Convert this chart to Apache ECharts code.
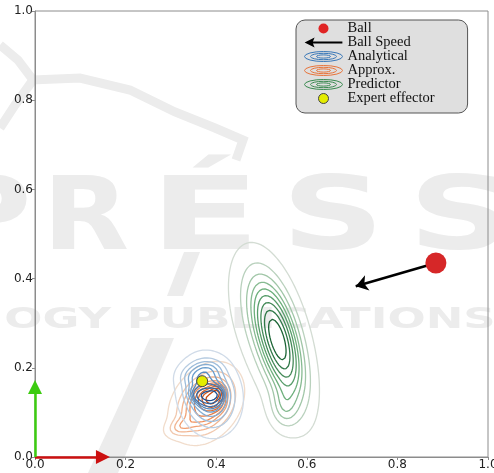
<!DOCTYPE html>
<html>
<head>
<meta charset="utf-8">
<script src="https://cdn.jsdelivr.net/npm/echarts@6/dist/echarts.min.js"></script>
<style>
  html, body { margin: 0; padding: 0; background: #ffffff; }
  #chart { width: 494px; height: 473px; }
</style>
</head>
<body>
<div id="chart"></div>
<script>
// ---- data ----
const axisTicks = [0.0, 0.2, 0.4, 0.6, 0.8, 1.0];

const ballPos = [0.885, 0.435];
const ballSpeedEnd = [0.708, 0.383];
const effectorPos = [0.369, 0.170];

// robot frame axes (origin -> shaft end)
const frameOrigin = [0.0, 0.0];
const frameXEnd = [0.150, 0.0];
const frameYEnd = [0.0, 0.157];

// density kernels: [cx, cy, sigmaMajor, sigmaMinor, angleDeg, weight]
const analyticalKernels = [
  [0.385, 0.140, 0.043, 0.032, 100, 1.00],
  [0.372, 0.136, 0.011, 0.018, 75, 0.12],
  [0.395, 0.140, 0.010, 0.013, 90, 0.08],
  [0.348, 0.180, 0.020, 0.016, 0, 0.06],
  [0.380, 0.198, 0.022, 0.014, 0, 0.06]
];
const approxKernels = [
  [0.378, 0.120, 0.044, 0.032, 55, 1.00],
  [0.388, 0.128, 0.012, 0.016, 60, 0.15],
  [0.402, 0.145, 0.010, 0.010, 0, 0.08],
  [0.322, 0.068, 0.020, 0.012, 20, 0.05]
];
const predictorKernels = [
  [0.538, 0.266, 0.085, 0.030, 106, 1.00],
  [0.518, 0.315, 0.075, 0.032, 106, 0.50],
  [0.550, 0.200, 0.072, 0.028, 104, 0.45],
  [0.507, 0.290, 0.100, 0.042, 108, 0.35],
  [0.549, 0.108, 0.030, 0.020, 97, 0.10]
];

// fraction of the mass enclosed by each contour (outer -> inner)
const massLevels = [0.95, 0.844, 0.739, 0.633, 0.528, 0.422, 0.317, 0.211, 0.106];

// colour ramps (low density -> high density)
const analyticalRamp = ['#d0dbe8', '#6a9dcc', '#1d4f8f'];
const approxRamp = ['#f1dccb', '#f08c55', '#c8490c'];
const predictorRamp = ['#d3dcd3', '#6caf7b', '#1b6535'];

// ---- helpers ----
function hexToRgb(h) {
  const n = parseInt(h.slice(1), 16);
  return [(n >> 16) & 255, (n >> 8) & 255, n & 255];
}
function rampColor(ramp, t) {
  const seg = t <= 0.5 ? 0 : 1;
  const lt = t <= 0.5 ? t / 0.5 : (t - 0.5) / 0.5;
  const a = hexToRgb(ramp[seg]), b = hexToRgb(ramp[seg + 1]);
  const c = a.map((v, i) => Math.round(v + (b[i] - v) * lt));
  return 'rgb(' + c.join(',') + ')';
}

function densityGrid(kernels, x0, x1, y0, y1, step) {
  const nx = Math.round((x1 - x0) / step) + 1;
  const ny = Math.round((y1 - y0) / step) + 1;
  const v = new Float64Array(nx * ny);
  const ks = kernels.map(([cx, cy, s1, s2, ang, w]) => {
    const t = ang * Math.PI / 180;
    return { cx, cy, s1, s2, c: Math.cos(t), s: Math.sin(t), a: w / (s1 * s2) };
  });
  for (let j = 0; j < ny; j++) {
    const y = y0 + j * step;
    for (let i = 0; i < nx; i++) {
      const x = x0 + i * step;
      let sum = 0;
      for (const k of ks) {
        const dx = x - k.cx, dy = y - k.cy;
        const u = (dx * k.c + dy * k.s) / k.s1;
        const w = (-dx * k.s + dy * k.c) / k.s2;
        sum += k.a * Math.exp(-0.5 * (u * u + w * w));
      }
      v[j * nx + i] = sum;
    }
  }
  return { nx, ny, x0, y0, step, v };
}

function levelsFromMass(g, masses) {
  const sorted = Array.from(g.v).sort((a, b) => b - a);
  let total = 0;
  for (const s of sorted) total += s;
  return masses.map(q => {
    let acc = 0;
    for (let k = 0; k < sorted.length; k++) {
      acc += sorted[k];
      if (acc >= q * total) return sorted[k];
    }
    return sorted[sorted.length - 1];
  });
}

const CASES = {
  1: [[3, 0]], 2: [[0, 1]], 3: [[3, 1]], 4: [[1, 2]], 5: [[3, 0], [1, 2]],
  6: [[0, 2]], 7: [[3, 2]], 8: [[2, 3]], 9: [[0, 2]], 10: [[0, 1], [2, 3]],
  11: [[1, 2]], 12: [[1, 3]], 13: [[0, 1]], 14: [[3, 0]]
};

function traceContours(g, L) {
  const { nx, ny, x0, y0, step, v } = g;
  const pts = new Map();
  const segs = [];
  for (let j = 0; j < ny - 1; j++) {
    for (let i = 0; i < nx - 1; i++) {
      const a = v[j * nx + i], b = v[j * nx + i + 1];
      const c = v[(j + 1) * nx + i + 1], d = v[(j + 1) * nx + i];
      const idx = (a > L ? 1 : 0) | (b > L ? 2 : 0) | (c > L ? 4 : 0) | (d > L ? 8 : 0);
      const cs = CASES[idx];
      if (!cs) continue;
      const key = e => {
        let k, p, t;
        if (e === 0) { k = 'h' + i + '_' + j; t = (L - a) / (b - a); p = [x0 + (i + t) * step, y0 + j * step]; }
        else if (e === 1) { k = 'v' + (i + 1) + '_' + j; t = (L - b) / (c - b); p = [x0 + (i + 1) * step, y0 + (j + t) * step]; }
        else if (e === 2) { k = 'h' + i + '_' + (j + 1); t = (L - d) / (c - d); p = [x0 + (i + t) * step, y0 + (j + 1) * step]; }
        else { k = 'v' + i + '_' + j; t = (L - a) / (d - a); p = [x0 + i * step, y0 + (j + t) * step]; }
        if (!pts.has(k)) pts.set(k, p);
        return k;
      };
      for (const [e1, e2] of cs) segs.push([key(e1), key(e2)]);
    }
  }
  const byKey = new Map();
  segs.forEach((s, n) => {
    for (const k of s) {
      if (!byKey.has(k)) byKey.set(k, []);
      byKey.get(k).push(n);
    }
  });
  const used = new Uint8Array(segs.length);
  const lines = [];
  const extend = (arr, atEnd) => {
    for (;;) {
      const k = atEnd ? arr[arr.length - 1] : arr[0];
      const cand = (byKey.get(k) || []).find(t => !used[t]);
      if (cand === undefined) break;
      used[cand] = 1;
      const other = segs[cand][0] === k ? segs[cand][1] : segs[cand][0];
      if (atEnd) arr.push(other); else arr.unshift(other);
    }
  };
  for (let s = 0; s < segs.length; s++) {
    if (used[s]) continue;
    used[s] = 1;
    const chain = [segs[s][0], segs[s][1]];
    extend(chain, true);
    extend(chain, false);
    if (chain.length > 3) lines.push(chain.map(k => pts.get(k)));
  }
  return lines;
}

function contourSeries(name, kernels, ramp, z) {
  const g = densityGrid(kernels, 0.18, 0.78, -0.06, 0.62, 0.002);
  const levels = levelsFromMass(g, massLevels);
  const out = [];
  levels.forEach((L, n) => {
    const color = rampColor(ramp, n / (levels.length - 1));
    traceContours(g, L).forEach(line => {
      out.push({
        type: 'line', name: name, data: line,
        symbol: 'none', showSymbol: false, smooth: false,
        lineStyle: { color: color, width: 1.3 },
        itemStyle: { color: color },
        silent: true, animation: false, z: z
      });
    });
  });
  return out;
}

// ---- legend icons ----
const ellipseIcon = 'path://M0,5 A19,5 0 1 0 38,5 A19,5 0 1 0 0,5 Z M6,5 A13,3.2 0 1 0 32,5 A13,3.2 0 1 0 6,5 Z M12,5 A7,1.6 0 1 0 26,5 A7,1.6 0 1 0 12,5 Z';
const arrowIcon = 'path://M0,5 L9,0.5 L7.5,4.2 L34,4.2 L34,5.8 L7.5,5.8 L9,9.5 Z';

// ---- faint publisher backdrop ----
const wmColor = '#ececec';
const wmLetters = [['P', -15, 1.25], ['R', 86, 1.1], ['É', 205, 1.6], ['S', 333, 1.4], ['S', 460, 1.4]];
const wmBackdrop = wmLetters.map(([ch, cx, sx]) => ({
  type: 'text', x: cx, y: 222, scaleX: sx, z: -5, silent: true,
  style: { text: ch, font: 'bold 102px "DejaVu Sans"', fill: wmColor, align: 'center', verticalAlign: 'middle' }
})).concat([
  {
    type: 'text', x: 250, y: 320, scaleX: 1.55, z: -5, silent: true,
    style: { text: 'OGY PUBLICATIONS', font: 'bold 29px "DejaVu Sans"', fill: wmColor, align: 'center', verticalAlign: 'middle' }
  },
  {
    type: 'polygon', z: -5, silent: true,
    shape: { points: [[150, 338], [174, 338], [118, 473], [88, 473]] },
    style: { fill: wmColor }
  },
  {
    type: 'polygon', z: -5, silent: true,
    shape: { points: [[184, 252], [200, 252], [183, 296], [167, 296]] },
    style: { fill: wmColor }
  },
  {
    type: 'polyline', z: -5, silent: true,
    shape: { points: [[0, 45], [18, 60], [33, 80], [80, 78], [130, 90], [175, 112], [215, 128], [243, 140], [236, 160]] },
    style: { stroke: wmColor, lineWidth: 9, fill: null }
  },
  {
    type: 'polyline', z: -5, silent: true,
    shape: { points: [[33, 80], [15, 105], [0, 128]] },
    style: { stroke: wmColor, lineWidth: 9, fill: null }
  }
]);

// ---- chart ----
const chart = echarts.init(document.getElementById('chart'), null, { renderer: 'canvas' });

const tickStep = axisTicks[1] - axisTicks[0];
const axisCommon = {
  type: 'value',
  min: axisTicks[0],
  max: axisTicks[axisTicks.length - 1],
  interval: tickStep,
  splitLine: { show: false },
  axisLine: { show: true, lineStyle: { color: '#8c8c8c', width: 1 } },
  axisTick: { show: true, length: 3, lineStyle: { color: '#8c8c8c' } },
  axisLabel: {
    color: '#222', fontSize: 12, fontFamily: 'DejaVu Sans', margin: 2,
    formatter: v => v.toFixed(1)
  }
};

const option = {
  backgroundColor: '#ffffff',
  animation: false,
  grid: {
    left: 35, right: 6, top: 11, bottom: 16,
    containLabel: false, outerBoundsMode: 'none',
    show: true, borderColor: '#8c8c8c', borderWidth: 1, backgroundColor: 'transparent'
  },
  xAxis: Object.assign({}, axisCommon, { position: 'bottom' }),
  yAxis: Object.assign({}, axisCommon, { position: 'left' }),
  graphic: wmBackdrop,
  legend: {
    orient: 'vertical',
    left: 296, top: 20,
    backgroundColor: 'rgba(221,221,221,0.95)',
    borderColor: '#555', borderWidth: 1, borderRadius: 9,
    padding: [1, 33, 7, 8],
    itemGap: -1, itemWidth: 38, itemHeight: 10,
    selectedMode: false,
    textStyle: { fontFamily: 'Liberation Serif', fontSize: 14.5, color: '#111', lineHeight: 13 },
    data: [
      { name: 'Ball', icon: 'circle', itemStyle: { color: '#e02424', borderWidth: 0 } },
      { name: 'Ball Speed', icon: arrowIcon, itemStyle: { color: '#000', borderWidth: 0 } },
      { name: 'Analytical', icon: ellipseIcon, itemStyle: { color: 'rgba(0,0,0,0)', borderColor: '#3a78b8', borderWidth: 1 } },
      { name: 'Approx.', icon: ellipseIcon, itemStyle: { color: 'rgba(0,0,0,0)', borderColor: '#e8743a', borderWidth: 1 } },
      { name: 'Predictor', icon: ellipseIcon, itemStyle: { color: 'rgba(0,0,0,0)', borderColor: '#3a8a50', borderWidth: 1 } },
      { name: 'Expert effector', icon: 'circle', itemStyle: { color: '#e4ec00', borderColor: '#444', borderWidth: 1 } }
    ]
  },
  series: []
    .concat(contourSeries('Approx.', approxKernels, approxRamp, 3))
    .concat(contourSeries('Analytical', analyticalKernels, analyticalRamp, 4))
    .concat(contourSeries('Predictor', predictorKernels, predictorRamp, 4))
    .concat([
      {
        type: 'lines', name: 'Frame X', coordinateSystem: 'cartesian2d', clip: false, z: 6,
        symbol: ['none', 'triangle'], symbolSize: [10, 14], silent: true,
        lineStyle: { color: '#cc1010', width: 2.5, opacity: 1 },
        itemStyle: { color: '#cc1010' },
        data: [{ coords: [frameOrigin, frameXEnd] }]
      },
      {
        type: 'lines', name: 'Frame Y', coordinateSystem: 'cartesian2d', clip: false, z: 6,
        symbol: ['none', 'triangle'], symbolSize: [10, 14], silent: true,
        lineStyle: { color: '#3ccc10', width: 2.5, opacity: 1 },
        itemStyle: { color: '#3ccc10' },
        data: [{ coords: [frameOrigin, frameYEnd] }]
      },
      {
        type: 'lines', name: 'Ball Speed', coordinateSystem: 'cartesian2d', clip: false, z: 6,
        symbol: ['none', 'arrow'], symbolSize: [9, 12], silent: true,
        lineStyle: { color: '#000', width: 2.5, opacity: 1 },
        itemStyle: { color: '#000' },
        data: [{ coords: [ballPos, ballSpeedEnd] }]
      },
      {
        type: 'scatter', name: 'Ball', z: 7, silent: true,
        symbol: 'circle', symbolSize: 21,
        itemStyle: { color: '#d62728', opacity: 1 },
        data: [ballPos]
      },
      {
        type: 'scatter', name: 'Expert effector', z: 7, silent: true,
        symbol: 'circle', symbolSize: 11,
        itemStyle: { color: '#e4ec00', borderColor: '#444', borderWidth: 1, opacity: 1 },
        data: [effectorPos]
      }
    ])
};

chart.setOption(option);
</script>
</body>
</html>
